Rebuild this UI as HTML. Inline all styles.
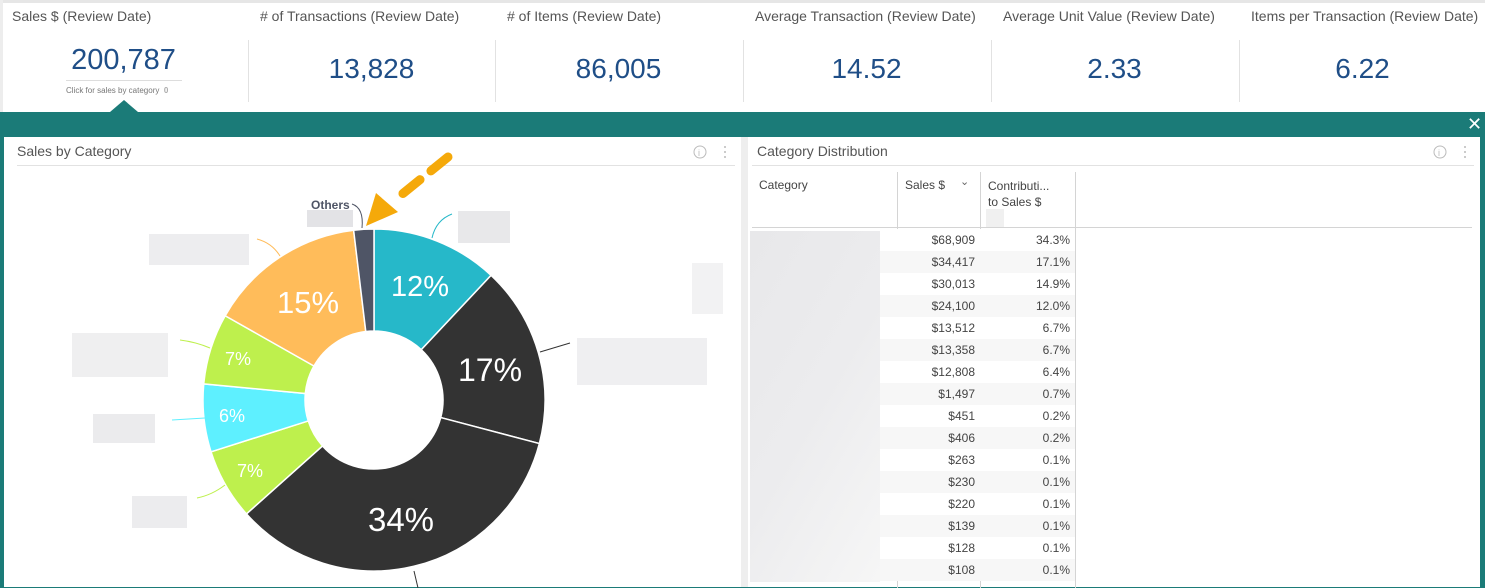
<!DOCTYPE html>
<html><head><meta charset="utf-8"><style>
*{margin:0;padding:0;box-sizing:border-box}
body{width:1485px;height:588px;overflow:hidden;background:#fff;font-family:"Liberation Sans",sans-serif;position:relative}
.abs{position:absolute}
.tile{position:absolute;top:0;height:112px;width:247px}
.tt{position:absolute;left:12px;top:8px;font-size:14px;color:#555;white-space:nowrap}
.tv{position:absolute;left:0;width:100%;text-align:center;top:53px;font-size:28px;color:#1f4e87}
.sep{position:absolute;top:40px;height:62px;width:1px;background:#e2e2e2}
.row{position:absolute;left:750px;width:325px;height:22px;font-size:12px;color:#444}
.row span{position:absolute;top:4px;text-align:right}
.blur{position:absolute;background:linear-gradient(120deg,#e8e8ea,#ececee 50%,#f6f6f6)}
</style></head><body>
<div class="abs" style="left:0;top:0;width:1485px;height:3px;background:#e6e6e6"></div>
<div class="abs" style="left:0;top:0;width:3px;height:112px;background:#ededed"></div>
<div class="tile" style="left:0"><div class="tt">Sales $ (Review Date)</div>
<div class="tv" style="top:44px;font-size:29px">200,787</div>
<div class="abs" style="left:66px;top:80px;width:116px;height:1px;background:#ddd"></div>
<div class="abs" style="left:66px;top:86px;font-size:8px;color:#777">Click for sales by category &nbsp;<b style="color:#aaa">0</b></div></div>
<div class="sep" style="left:248px"></div>
<div class="tile" style="left:248px"><div class="tt">&#35; of Transactions (Review Date)</div><div class="tv">13,828</div></div>
<div class="sep" style="left:495px"></div>
<div class="tile" style="left:495px"><div class="tt">&#35; of Items (Review Date)</div><div class="tv">86,005</div></div>
<div class="sep" style="left:743px"></div>
<div class="tile" style="left:743px"><div class="tt">Average Transaction (Review Date)</div><div class="tv">14.52</div></div>
<div class="sep" style="left:991px"></div>
<div class="tile" style="left:991px"><div class="tt">Average Unit Value (Review Date)</div><div class="tv">2.33</div></div>
<div class="sep" style="left:1239px"></div>
<div class="tile" style="left:1239px"><div class="tt">Items per Transaction (Review Date)</div><div class="tv">6.22</div></div>

<div class="abs" style="left:0;top:112px;width:1485px;height:476px;background:#1b7b78"></div>
<div class="abs" style="left:110px;top:100px;width:0;height:0;border-left:14px solid transparent;border-right:14px solid transparent;border-bottom:12px solid #1b7b78"></div>
<div class="abs" style="left:1467px;top:114px;color:#fff;font-size:18px">✕</div>
<div class="abs" style="left:4px;top:137px;width:737px;height:450px;background:#fff"></div>
<div class="abs" style="left:741px;top:137px;width:7px;height:450px;background:#eeeeee"></div>
<div class="abs" style="left:748px;top:137px;width:732px;height:450px;background:#fff"></div>

<div class="abs" style="left:17px;top:143px;font-size:14px;color:#555">Sales by Category</div>
<div class="abs" style="left:17px;top:165px;width:718px;height:1px;background:#e2e2e2"></div>
<div class="abs" style="left:757px;top:143px;font-size:14px;color:#555">Category Distribution</div>
<div class="abs" style="left:752px;top:165px;width:722px;height:1px;background:#e2e2e2"></div>
<svg class="abs" style="left:0;top:0" width="1485" height="588">
<g fill="none" stroke="#bbb"><circle cx="700" cy="152" r="6"/><circle cx="1440" cy="152" r="6"/></g>
<g fill="#bbb"><text x="698" y="156" font-size="9" font-family="Liberation Sans">i</text><text x="1438" y="156" font-size="9" font-family="Liberation Sans">i</text>
<circle cx="725" cy="147" r="1"/><circle cx="725" cy="152" r="1"/><circle cx="725" cy="157" r="1"/>
<circle cx="1465" cy="147" r="1"/><circle cx="1465" cy="152" r="1"/><circle cx="1465" cy="157" r="1"/></g>
<g id="donut"></g>
<g fill="none" stroke-width="1">
<path d="M432 238 Q436 220 452 214" stroke="#26b8c9"/>
<path d="M362 228 Q364 208 352 204" stroke="#4f5566"/>
<path d="M280 256 Q272 243 257 239" stroke="#ffbc5a"/>
<path d="M210 348 Q196 342 180 340" stroke="#bef04d"/>
<path d="M205 418 L172 420" stroke="#5ef0ff"/>
<path d="M225 485 Q212 495 197 498" stroke="#bef04d"/>
<path d="M540 352 L570 343" stroke="#333"/>
<path d="M414 571 L418 588" stroke="#333"/>
</g>
<text x="311" y="209" font-size="12" font-weight="bold" fill="#4f5566" font-family="Liberation Sans">Others</text>
<rect x="307" y="210" width="46" height="17" fill="#e3e3e6"/>
<rect x="458" y="211" width="52" height="32" fill="#e8e8ea"/>
<rect x="149" y="234" width="100" height="31" fill="#ededef"/>
<rect x="692" y="263" width="31" height="51" fill="#f2f2f3"/>
<rect x="72" y="333" width="96" height="44" fill="#efeff0"/>
<rect x="577" y="338" width="130" height="47" fill="#efeff1"/>
<rect x="93" y="414" width="62" height="29" fill="#ebebed"/>
<rect x="132" y="496" width="55" height="32" fill="#ececee"/>
<g fill="#fff" font-family="Liberation Sans" text-anchor="middle">
<text x="420" y="296" font-size="29">12%</text>
<text x="490" y="381" font-size="32">17%</text>
<text x="401" y="531" font-size="33">34%</text>
<text x="238" y="365" font-size="18">7%</text>
<text x="232" y="422" font-size="18">6%</text>
<text x="250" y="477" font-size="18">7%</text>
<text x="308" y="313" font-size="31">15%</text>
</g>
<line x1="448" y1="157" x2="395" y2="200" stroke="#f5a90a" stroke-width="9" stroke-linecap="round" stroke-dasharray="22 14"/>
<polygon points="366,226 376,193 398,212" fill="#f5a90a"/>
</svg>

<div class="abs" style="left:897px;top:172px;width:1px;height:416px;background:#d4d4d4"></div>
<div class="abs" style="left:980px;top:172px;width:1px;height:416px;background:#d4d4d4"></div>
<div class="abs" style="left:1075px;top:172px;width:1px;height:416px;background:#d4d4d4"></div>
<div class="abs" style="left:752px;top:227px;width:720px;height:1px;background:#d4d4d4"></div>
<div class="abs" style="left:759px;top:178px;font-size:12px;color:#444">Category</div>
<div class="abs" style="left:905px;top:178px;font-size:12px;color:#444">Sales $</div>
<div class="abs" style="left:960px;top:175px;font-size:11px;color:#666">⌄</div>
<div class="abs" style="left:988px;top:178px;font-size:12px;color:#444;line-height:16px">Contributi...<br>to Sales $</div>
<div class="abs" style="left:986px;top:209px;width:18px;height:18px;background:#f0f0f0"></div>
<div id="rows"></div>
<div class="blur" style="left:750px;top:231px;width:130px;height:351px"></div>
<script>
var sales=["$68,909","$34,417","$30,013","$24,100","$13,512","$13,358","$12,808","$1,497","$451","$406","$263","$230","$220","$139","$128","$108"];
var pct=["34.3%","17.1%","14.9%","12.0%","6.7%","6.7%","6.4%","0.7%","0.2%","0.2%","0.1%","0.1%","0.1%","0.1%","0.1%","0.1%"];
var h="";for(var i=0;i<16;i++){h+='<div class="row" style="top:'+(229+i*22)+'px;background:'+(i%2?'#f7f7f7':'#fff')+'"><span style="left:147px;width:78px">'+sales[i]+'</span><span style="left:230px;width:90px">'+pct[i]+'</span></div>';}
document.getElementById("rows").innerHTML=h;
var vals=[[12.0,"#26b8c9"],[17.1,"#333333"],[34.3,"#333333"],[6.7,"#bef04d"],[6.4,"#5ef0ff"],[6.7,"#bef04d"],[14.9,"#ffbc5a"],[1.9,"#4f5566"]];
var cx=374,cy=400,R=171,r=69,a=0,s="";
function pt(rad,ang){return [cx+rad*Math.sin(ang),cy-rad*Math.cos(ang)];}
vals.forEach(function(v){var a0=a/100*2*Math.PI;a+=v[0];var a1=a/100*2*Math.PI;var L=(a1-a0)>Math.PI?1:0;
var p1=pt(R,a0),p2=pt(R,a1),p3=pt(r,a1),p4=pt(r,a0);
s+='<path d="M'+p1+' A'+R+' '+R+' 0 '+L+' 1 '+p2+' L'+p3+' A'+r+' '+r+' 0 '+L+' 0 '+p4+'Z" fill="'+v[1]+'" stroke="#fff" stroke-width="1.5"/>';});
document.getElementById("donut").innerHTML=s;
</script>
</body></html>
